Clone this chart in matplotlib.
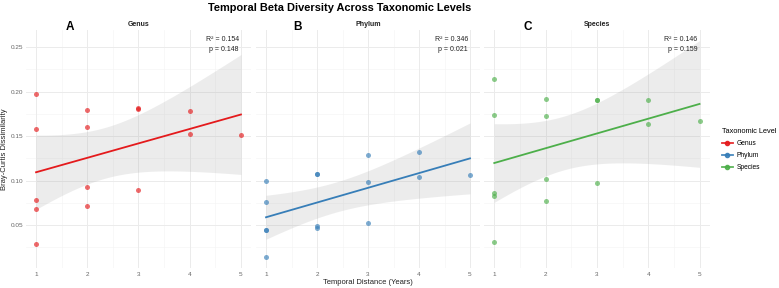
import numpy as np
import matplotlib
matplotlib.use("Agg")
import matplotlib.pyplot as plt
from matplotlib.lines import Line2D

plt.rcParams['font.family'] = ['Liberation Sans', 'DejaVu Sans']

# ---- data ----
levels = ["Genus", "Phylum", "Species"]
panel_letters = ["A", "B", "C"]
colors = ["#E41A1C", "#377EB8", "#4DAF4A"]

genus_x = [1, 1, 1, 1, 1, 2, 2, 2, 2, 3, 3, 3, 4, 4, 5]
genus_y = [0.197, 0.158, 0.078, 0.068, 0.029,
           0.179, 0.160, 0.093, 0.072,
           0.181, 0.180, 0.089,
           0.178, 0.152,
           0.151]

phylum_x = [1, 1, 1, 1, 1, 2, 2, 2, 2, 3, 3, 3, 4, 4, 5]
phylum_y = [0.100, 0.076, 0.045, 0.045, 0.014,
            0.108, 0.108, 0.049, 0.047,
            0.129, 0.098, 0.053,
            0.132, 0.104,
            0.106]

species_x = [1, 1, 1, 1, 1, 2, 2, 2, 2, 3, 3, 3, 4, 4, 5]
species_y = [0.214, 0.174, 0.086, 0.083, 0.031,
             0.192, 0.172, 0.102, 0.077,
             0.190, 0.190, 0.097,
             0.190, 0.163,
             0.167]

r2_labels = ["R\u00b2 = 0.154", "R\u00b2 = 0.346", "R\u00b2 = 0.146"]
p_labels = ["p = 0.148", "p = 0.021", "p = 0.159"]

x_ticks = [1, 2, 3, 4, 5]
y_ticks = [0.05, 0.10, 0.15, 0.20, 0.25]
y_tick_labels = ["0.05", "0.10", "0.15", "0.20", "0.25"]

T_CRIT = 2.160  # t(0.975, df=13)

datasets = [(genus_x, genus_y), (phylum_x, phylum_y), (species_x, species_y)]

W, H = 779, 288
fig = plt.figure(figsize=(W / 100, H / 100), dpi=100)
fig.patch.set_facecolor("white")

panel_px = [(25.8, 251.2), (255.8, 480.2), (484.0, 709.8)]
top_px, bot_px = 30, 268

grid_major = "#EBEBEB"
grid_minor = "#F5F5F5"

for i, (xs, ys) in enumerate(datasets):
    l, r = panel_px[i]
    ax = fig.add_axes([l / W, 1 - bot_px / H, (r - l) / W, (bot_px - top_px) / H])
    xs = np.array(xs, float)
    ys = np.array(ys, float)
    ax.set_xlim(0.8, 5.2)
    ax.set_ylim(0.002, 0.269)
    # grid
    for v in [1.5, 2.5, 3.5, 4.5]:
        ax.axvline(v, color=grid_minor, lw=0.5, zorder=0)
    for v in [0.025, 0.075, 0.125, 0.175, 0.225]:
        ax.axhline(v, color=grid_minor, lw=0.5, zorder=0)
    for v in x_ticks:
        ax.axvline(v, color=grid_major, lw=0.7, zorder=0)
    for v in y_ticks:
        ax.axhline(v, color=grid_major, lw=0.7, zorder=0)
    # fit
    slope, intercept = np.polyfit(xs, ys, 1)
    n = len(xs)
    resid = ys - (slope * xs + intercept)
    s = np.sqrt(np.sum(resid ** 2) / (n - 2))
    xbar = xs.mean()
    sxx = np.sum((xs - xbar) ** 2)
    xg = np.linspace(xs.min(), xs.max(), 100)
    yg = slope * xg + intercept
    se = s * np.sqrt(1 / n + (xg - xbar) ** 2 / sxx)
    ax.fill_between(xg, yg - T_CRIT * se, yg + T_CRIT * se, color="#999999",
                    alpha=0.18, lw=0, zorder=1)
    ax.scatter(xs, ys, s=13, color=colors[i], alpha=0.65, lw=0, zorder=2)
    ax.plot(xg, yg, color=colors[i], lw=1.3, zorder=3)

    ax.set_xticks(x_ticks)
    ax.set_xticklabels([str(t) for t in x_ticks])
    ax.set_yticks(y_ticks)
    if i == 0:
        ax.set_yticklabels(y_tick_labels)
    else:
        ax.set_yticklabels([])
    ax.tick_params(axis="x", length=0, labelsize=4.6, colors="#666666", pad=3)
    ax.tick_params(axis="y", length=0, labelsize=4.6, colors="#666666", pad=2)
    for sp in ax.spines.values():
        sp.set_visible(False)

    ax.text(0.945, 0.962, r2_labels[i], transform=ax.transAxes, ha="right", va="center",
            fontsize=5.0, color="#222222")
    ax.text(0.945, 0.916, p_labels[i], transform=ax.transAxes, ha="right", va="center",
            fontsize=5.0, color="#222222")
    # strip and panel letter
    cx = (l + r) / 2
    fig.text(cx / W, 1 - 24 / H, levels[i], ha="center", va="center", fontsize=5.0,
             fontweight="bold", color="#222222")
    letter_x = [70, 297, 528][i]
    fig.text(letter_x / W, 1 - 27 / H, panel_letters[i], ha="center", va="center",
             fontsize=8.5, fontweight="bold", color="black")

fig.text(5 / W, 1 - 149 / H, "Bray-Curtis Dissimilarity", rotation=90, ha="center",
         va="center", fontsize=5.5, color="#222222")
fig.text(368 / W, 1 - 283 / H, "Temporal Distance (Years)", ha="center", va="center",
         fontsize=5.5, color="#222222")

fig.text(340 / W, 1 - 8 / H, "Temporal Beta Diversity Across Taxonomic Levels",
         ha="center", va="center", fontsize=7.9, fontweight="bold", color="black")

handles = [Line2D([0], [0], color=c, lw=1.3, marker="o", markersize=3, alpha=0.9) for c in colors]
leg = fig.legend(handles, levels, loc="upper left", bbox_to_anchor=(716 / W, 1 - 122 / H),
                 frameon=False, fontsize=4.8, title="Taxonomic Level", title_fontsize=5.3,
                 handlelength=1.6, handletextpad=0.6, labelspacing=0.75, alignment="left")

fig.savefig("out.png", dpi=100, facecolor="white")
